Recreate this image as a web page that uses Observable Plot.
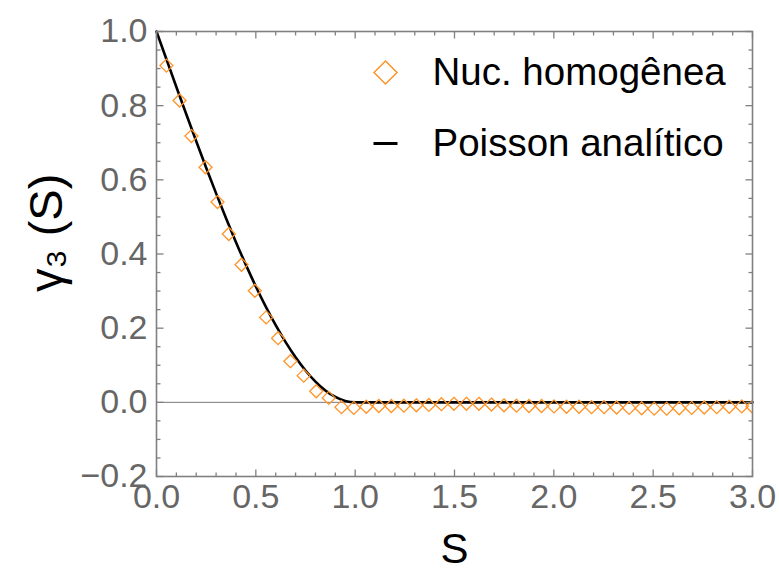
<!DOCTYPE html>
<html>
<head>
<meta charset="utf-8">
<script src="https://cdn.jsdelivr.net/npm/d3@7"></script>
<script src="https://cdn.jsdelivr.net/npm/@observablehq/plot@0.6"></script>
<style>
  html, body { margin: 0; padding: 0; background: #fff; }
  #chart svg { display: block; }
</style>
</head>
<body>
<div id="chart"></div>
<script>
// Simulated points: "Nuc. homogênea"
const simS = [0.05, 0.116, 0.176, 0.247, 0.307, 0.364, 0.428, 0.495, 0.552, 0.612, 0.674, 0.741, 0.804, 0.867, 0.931, 0.993,
  1.056, 1.119, 1.182, 1.245, 1.308, 1.371, 1.434, 1.497, 1.560, 1.623, 1.686, 1.749, 1.812, 1.875, 1.938, 2.001,
  2.064, 2.127, 2.190, 2.253, 2.316, 2.379, 2.442, 2.505, 2.568, 2.631, 2.694, 2.757, 2.820, 2.883, 2.946, 3.0];
const simGamma = [0.908, 0.814, 0.718, 0.634, 0.540, 0.454, 0.371, 0.301, 0.229, 0.173, 0.111, 0.072, 0.030, 0.012, -0.013, -0.015,
  -0.012, -0.010, -0.010, -0.009, -0.008, -0.007, -0.005, -0.004, -0.004, -0.004, -0.006, -0.008, -0.009, -0.010, -0.010, -0.011,
  -0.012, -0.012, -0.013, -0.013, -0.014, -0.015, -0.016, -0.017, -0.017, -0.016, -0.015, -0.014, -0.013, -0.012, -0.011, -0.012];

// Analytic Poisson curve, sampled
const poissonS = [0, 0.05, 0.1, 0.15, 0.2, 0.25, 0.3, 0.35, 0.4, 0.45, 0.5, 0.55, 0.6, 0.65, 0.7, 0.75, 0.8, 0.85, 0.9, 0.95, 1.0, 3.0];
const poissonGamma = [1, 0.9251, 0.8505, 0.7767, 0.704, 0.6328, 0.5635, 0.4964, 0.432, 0.3706, 0.3125, 0.2582, 0.208, 0.1623, 0.1215, 0.0859, 0.056, 0.0321, 0.0145, 0.0037, 0, 0];

// Ticks
const xMajor = [0, 0.5, 1.0, 1.5, 2.0, 2.5, 3.0];
const xMinor = [0.1, 0.2, 0.3, 0.4, 0.6, 0.7, 0.8, 0.9, 1.1, 1.2, 1.3, 1.4, 1.6, 1.7, 1.8, 1.9, 2.1, 2.2, 2.3, 2.4, 2.6, 2.7, 2.8, 2.9];
const yMajor = [-0.2, 0, 0.2, 0.4, 0.6, 0.8, 1.0];
const yMinor = [-0.15, -0.1, -0.05, 0.05, 0.1, 0.15, 0.25, 0.3, 0.35, 0.45, 0.5, 0.55, 0.65, 0.7, 0.75, 0.85, 0.9, 0.95];

// Legend
const legendLabels = ["Nuc. homogênea", "Poisson analítico"];

const sim = simS.map((s, i) => ({S: s, g: simGamma[i]}));
const poisson = poissonS.map((s, i) => ({S: s, g: poissonGamma[i]}));

const ORANGE = "#ff9326";
const GRAY = "#808080";
const LABEL = "#666666";
const FONT = "'Liberation Sans', Arial, sans-serif";

// custom symbols
const diamond = {
  draw(ctx, size) {
    const r = Math.sqrt(size / Math.PI);
    ctx.moveTo(0, -r); ctx.lineTo(r, 0); ctx.lineTo(0, r); ctx.lineTo(-r, 0); ctx.closePath();
  }
};
const mk = (dx, dy) => ({
  draw(ctx, size) {
    const l = Math.sqrt(size / Math.PI);
    ctx.moveTo(0, 0); ctx.lineTo(dx * l, dy * l);
  }
});
const tickUp = mk(0, -1), tickDown = mk(0, 1), tickRight = mk(1, 0), tickLeft = mk(-1, 0);
const dash = {
  draw(ctx, size) {
    const l = Math.sqrt(size / Math.PI);
    ctx.moveTo(-l, 0); ctx.lineTo(l, 0);
  }
};

const tickMarks = (vals, len) => [
  Plot.dot(vals, {x: d => d, frameAnchor: "bottom", symbol: tickUp, r: len, stroke: GRAY, strokeWidth: 1.3, fill: "none"}),
  Plot.dot(vals, {x: d => d, frameAnchor: "top", symbol: tickDown, r: len, stroke: GRAY, strokeWidth: 1.3, fill: "none"})
];
const tickMarksY = (vals, len) => [
  Plot.dot(vals, {y: d => d, frameAnchor: "left", symbol: tickRight, r: len, stroke: GRAY, strokeWidth: 1.3, fill: "none"}),
  Plot.dot(vals, {y: d => d, frameAnchor: "right", symbol: tickLeft, r: len, stroke: GRAY, strokeWidth: 1.3, fill: "none"})
];

const chart = Plot.plot({
  width: 779,
  height: 575,
  marginLeft: 156,
  marginRight: 27,
  marginTop: 31,
  marginBottom: 99,
  style: {fontFamily: FONT, background: "white", overflow: "visible"},
  x: {domain: [0, 3], axis: null},
  y: {domain: [-0.2, 1.0], axis: null},
  marks: [
    Plot.ruleY([0], {stroke: "#777", strokeWidth: 1}),
    Plot.line(poisson, {x: "S", y: "g", stroke: "black", strokeWidth: 2.6, curve: "monotone-x"}),
    Plot.dot(sim, {x: "S", y: "g", symbol: diamond, r: 6.5, stroke: ORANGE, strokeWidth: 1.3, fill: "none", clip: true}),
    Plot.frame({stroke: GRAY, strokeWidth: 1.6}),
    ...tickMarks(xMajor, 7), ...tickMarks(xMinor, 4),
    ...tickMarksY(yMajor, 7), ...tickMarksY(yMinor, 4),
    Plot.axisX({ticks: xMajor, tickSize: 0, tickPadding: 7, tickFormat: d3.format(".1f"), fontSize: 34, color: LABEL, label: null}),
    Plot.axisY({ticks: yMajor, tickSize: 0, tickPadding: 9, tickFormat: d => d3.format(".1f")(d).replace("-", "\u2212"), fontSize: 34, color: LABEL, label: null}),
    Plot.text(["S"], {frameAnchor: "bottom", dy: 86, fontSize: 42, fill: "black"}),
    Plot.text(["γ₃ (S)"], {frameAnchor: "left", dx: -110, dy: 38, rotate: -90, fontSize: 47, fill: "black"}),
    // legend
    Plot.dot([legendLabels[0]], {frameAnchor: "top-left", dx: 229, dy: 41, symbol: diamond, r: 11.5, stroke: ORANGE, strokeWidth: 1.5, fill: "none"}),
    Plot.dot([legendLabels[1]], {frameAnchor: "top-left", dx: 229, dy: 112, symbol: dash, r: 12, stroke: "black", strokeWidth: 3}),
    Plot.text([legendLabels[0]], {frameAnchor: "top-left", dx: 276, dy: 41, textAnchor: "start", lineAnchor: "middle", fontSize: 38.5, fill: "black"}),
    Plot.text([legendLabels[1]], {frameAnchor: "top-left", dx: 276, dy: 112, textAnchor: "start", lineAnchor: "middle", fontSize: 38.5, fill: "black"})
  ]
});
document.getElementById("chart").appendChild(chart);
</script>
</body>
</html>
